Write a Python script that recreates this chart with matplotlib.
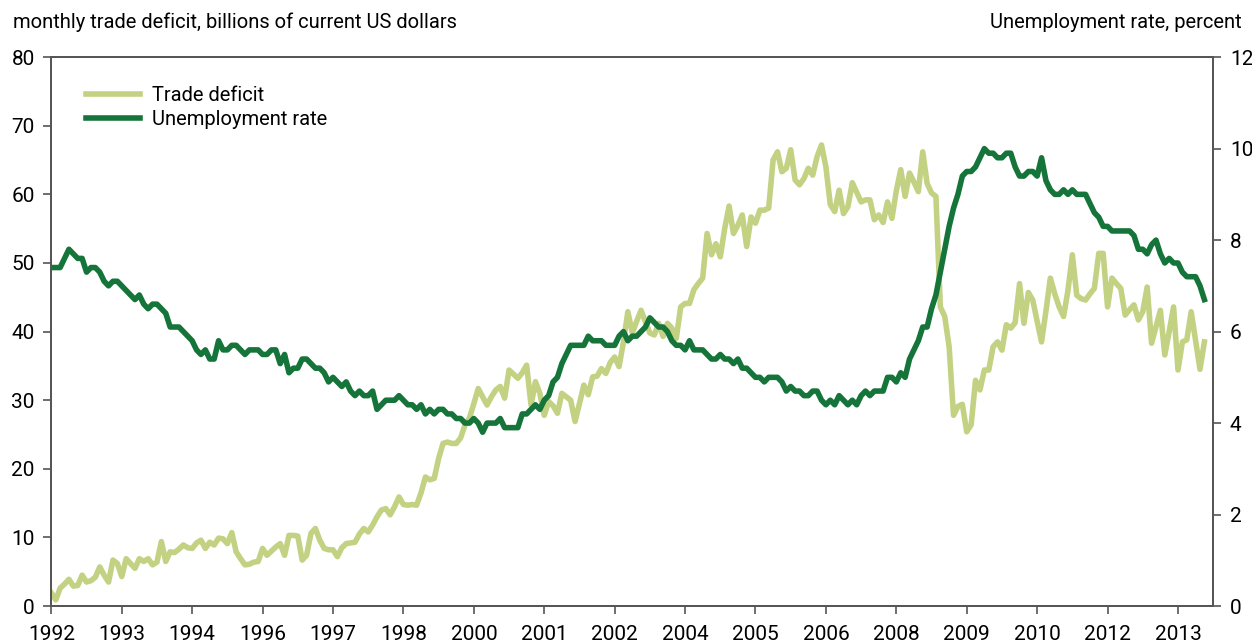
import matplotlib
matplotlib.use("Agg")
import matplotlib.pyplot as plt
from matplotlib.lines import Line2D

plt.rcParams['font.family'] = ['Roboto', 'DejaVu Sans']

# monthly values, first point = start of 1992
trade_deficit = [
    1.9, 0.9, 2.6, 3.2, 3.9, 2.9, 3.0, 4.5, 3.5, 3.7, 4.2, 5.7,
    4.5, 3.5, 6.7, 6.2, 4.3, 6.9, 6.2, 5.5, 6.9, 6.5, 6.9, 6.0,
    6.4, 9.4, 6.5, 7.9, 7.8, 8.3, 8.9, 8.5, 8.4, 9.2, 9.6, 8.4,
    9.3, 8.9, 9.9, 9.8, 9.1, 10.7, 7.9, 6.9, 6.0, 6.1, 6.4, 6.5,
    8.4, 7.4, 8.0, 8.6, 9.1, 7.4, 10.3, 10.3, 10.2, 6.7, 7.4, 10.6,
    11.3, 9.6, 8.4, 8.2, 8.2, 7.2, 8.5, 9.1, 9.2, 9.3, 10.5, 11.3,
    10.8, 11.8, 13.0, 14.0, 14.2, 13.3, 14.5, 15.9, 14.8, 14.7, 14.8, 14.7,
    16.5, 18.8, 18.4, 18.6, 21.5, 23.7, 23.9, 23.7, 23.7, 24.5, 26.4, 27.4,
    29.5, 31.7, 30.5, 29.3, 30.5, 31.5, 32.0, 30.3, 34.4, 33.8, 33.2, 34.0,
    35.1, 29.3, 32.7, 31.0, 27.8, 29.8, 29.2, 28.1, 31.0, 30.5, 30.0, 26.9,
    29.5, 32.2, 30.8, 33.4, 33.5, 34.6, 33.9, 35.5, 36.3, 34.9, 38.5, 42.9,
    39.8, 41.5, 43.1, 41.4, 39.8, 39.5, 41.2, 39.3, 41.2, 40.5, 39.0, 43.6,
    44.1, 44.1, 46.1, 47.0, 47.8, 54.3, 51.2, 52.8, 50.9, 55.0, 58.3, 54.3,
    55.5, 57.0, 52.4, 56.7, 55.8, 57.7, 57.7, 58.0, 65.0, 66.2, 63.3, 63.8,
    66.5, 62.1, 61.4, 62.3, 63.8, 62.8, 65.5, 67.2, 64.0, 58.5, 57.5, 60.6,
    57.2, 58.2, 61.7, 60.3, 58.9, 59.2, 59.2, 56.3, 57.0, 55.9, 58.9, 56.5,
    60.5, 63.6, 59.7, 63.1, 61.8, 60.4, 66.2, 61.6, 60.2, 59.7, 43.6, 42.2,
    37.8, 27.8, 29.1, 29.4, 25.4, 26.4, 32.9, 31.5, 34.4, 34.4, 37.8, 38.5,
    37.3, 41.0, 40.5, 41.3, 47.0, 41.2, 45.7, 44.6, 41.5, 38.5, 43.0, 47.8,
    45.5, 43.6, 42.2, 46.0, 51.2, 45.3, 44.8, 44.6, 45.5, 46.3, 51.4, 51.4,
    43.6, 47.8, 47.0, 46.3, 42.4, 43.2, 43.9, 41.7, 42.9, 46.5, 38.3, 40.7,
    43.1, 36.6, 40.0, 43.6, 34.4, 38.5, 38.8, 42.9, 38.7, 34.5, 38.5,
]

unemployment = [
    7.4, 7.4, 7.4, 7.6, 7.8, 7.7, 7.6, 7.6, 7.3, 7.4, 7.4,
    7.3, 7.1, 7.0, 7.1, 7.1, 7.0, 6.9, 6.8, 6.7, 6.8, 6.6, 6.5,
    6.6, 6.6, 6.5, 6.4, 6.1, 6.1, 6.1, 6.0, 5.9, 5.8, 5.6, 5.5,
    5.6, 5.4, 5.4, 5.8, 5.6, 5.6, 5.7, 5.7, 5.6, 5.5, 5.6, 5.6,
    5.6, 5.5, 5.5, 5.6, 5.6, 5.3, 5.5, 5.1, 5.2, 5.2, 5.4, 5.4,
    5.3, 5.2, 5.2, 5.1, 4.9, 5.0, 4.9, 4.8, 4.9, 4.7, 4.6, 4.7,
    4.6, 4.6, 4.7, 4.3, 4.4, 4.5, 4.5, 4.5, 4.6, 4.5, 4.4, 4.4,
    4.3, 4.4, 4.2, 4.3, 4.2, 4.3, 4.3, 4.2, 4.2, 4.1, 4.1, 4.0,
    4.0, 4.1, 4.0, 3.8, 4.0, 4.0, 4.0, 4.1, 3.9, 3.9, 3.9, 3.9,
    4.2, 4.2, 4.3, 4.4, 4.3, 4.5, 4.6, 4.9, 5.0, 5.3, 5.5, 5.7,
    5.7, 5.7, 5.7, 5.9, 5.8, 5.8, 5.8, 5.7, 5.7, 5.7, 5.9, 6.0,
    5.8, 5.9, 5.9, 6.0, 6.1, 6.3, 6.2, 6.1, 6.1, 6.0, 5.8, 5.7,
    5.7, 5.6, 5.8, 5.6, 5.6, 5.6, 5.5, 5.4, 5.4, 5.5, 5.4, 5.4,
    5.3, 5.4, 5.2, 5.2, 5.1, 5.0, 5.0, 4.9, 5.0, 5.0, 5.0, 4.9,
    4.7, 4.8, 4.7, 4.7, 4.6, 4.6, 4.7, 4.7, 4.5, 4.4, 4.5, 4.4,
    4.6, 4.5, 4.4, 4.5, 4.4, 4.6, 4.7, 4.6, 4.7, 4.7, 4.7, 5.0,
    5.0, 4.9, 5.1, 5.0, 5.4, 5.6, 5.8, 6.1, 6.1, 6.5, 6.8, 7.3,
    7.8, 8.3, 8.7, 9.0, 9.4, 9.5, 9.5, 9.6, 9.8, 10.0, 9.9, 9.9,
    9.8, 9.8, 9.9, 9.9, 9.6, 9.4, 9.4, 9.5, 9.5, 9.4, 9.8, 9.3,
    9.1, 9.0, 9.0, 9.1, 9.0, 9.1, 9.0, 9.0, 9.0, 8.8, 8.6, 8.5,
    8.3, 8.3, 8.2, 8.2, 8.2, 8.2, 8.2, 8.1, 7.8, 7.8, 7.7, 7.9,
    8.0, 7.7, 7.5, 7.6, 7.5, 7.5, 7.3, 7.2, 7.2, 7.2, 7.0, 6.7,
]

year_labels = ["1992", "1993", "1994", "1996", "1997", "1998", "2000", "2001", "2002",
               "2004", "2005", "2006", "2008", "2009", "2010", "2012", "2013"]

light = "#c3d182"
dark = "#15743a"
axis_col = "#555555"

fig = plt.figure(figsize=(12.52, 6.42), dpi=100)
ax = fig.add_axes([0.041, 0.056, 0.928, 0.855])
ax2 = ax.twinx()

ax.plot(range(len(trade_deficit)), trade_deficit, color=light, lw=4.0, solid_joinstyle="round")
ax2.plot(range(len(unemployment)), unemployment, color=dark, lw=4.0, solid_joinstyle="round")

ax.set_xlim(0, 264)
ax.set_ylim(0, 80)
ax2.set_ylim(0, 12)
ax.set_yticks(range(0, 81, 10))
ax2.set_yticks(range(0, 13, 2))
ax.set_xticks(range(0, 16 * len(year_labels), 16))
ax.set_xticklabels(year_labels)

for a in (ax, ax2):
    for s in a.spines.values():
        s.set_color(axis_col)
        s.set_linewidth(1.3)
    a.tick_params(direction="out", length=6, width=1.2, color=axis_col,
                  labelsize=15, pad=6)
ax.tick_params(axis="x", pad=8)

fig.text(0.01, 0.965, "monthly trade deficit, billions of current US dollars",
         fontsize=14.5, va="center", ha="left")
fig.text(0.992, 0.965, "Unemployment rate, percent",
         fontsize=14.5, va="center", ha="right")

handles = [Line2D([], [], color=light, lw=4.0), Line2D([], [], color=dark, lw=4.0)]
ax2.legend(handles, ["Trade deficit", "Unemployment rate"], loc="upper left",
           bbox_to_anchor=(0.014, 0.98), frameon=False, fontsize=14.5,
           handlelength=2.7, handletextpad=0.6, labelspacing=0.25)

fig.savefig("out.png", dpi=100)
